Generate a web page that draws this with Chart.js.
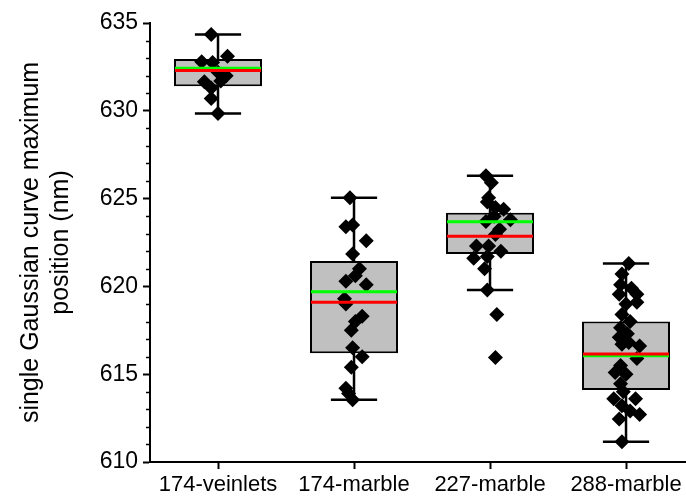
<!DOCTYPE html>
<html>
<head>
<meta charset="utf-8">
<script src="https://cdn.jsdelivr.net/npm/chart.js@4"></script>
<style>
  html, body { margin: 0; padding: 0; background: #fff; }
  #wrap { width: 686px; height: 501px; position: relative; }
</style>
</head>
<body>
<div id="wrap"><canvas id="chart"></canvas></div>
<script>
// sample groups
var categories = ["174-veinlets", "174-marble", "227-marble", "288-marble"];

// box statistics per group
var whiskerLow  = [629.85, 613.55, 619.8, 611.15];
var q1          = [631.4, 616.2, 621.85, 614.1];
var median      = [632.3, 619.1, 622.85, 616.15];
var mean        = [632.42, 619.7, 623.68, 616.05];
var q3          = [632.95, 621.45, 624.2, 618.0];
var whiskerHigh = [634.35, 625.05, 626.3, 621.3];

// individual measurements: [jitter offset, value]
var veinlets174 = [
  [-0.05, 634.35], [0.07, 633.1], [-0.12, 632.8], [-0.04, 632.75], [0.0, 632.2],
  [-0.10, 631.65], [0.02, 631.7], [0.06, 632.0], [-0.05, 631.3], [-0.05, 630.7],
  [0.0, 629.85]
];
var marble174 = [
  [-0.03, 625.05], [-0.06, 623.4], [-0.01, 623.5], [0.09, 622.6], [-0.01, 621.85],
  [0.04, 621.0], [0.01, 620.6], [-0.06, 620.3], [0.09, 620.1], [-0.07, 619.3],
  [-0.06, 619.0], [0.01, 618.0], [0.06, 618.3], [-0.02, 617.5], [-0.01, 616.5],
  [0.06, 616.0], [-0.02, 615.4], [-0.06, 614.2], [-0.04, 613.9], [-0.01, 613.55]
];
var marble227 = [
  [-0.03, 626.3], [0.01, 625.9], [-0.01, 625.05], [-0.02, 624.8], [0.10, 624.4],
  [0.04, 624.5], [0.15, 623.8], [-0.03, 623.7], [0.07, 623.25], [0.04, 622.96],
  [-0.10, 622.3], [-0.01, 622.3], [-0.12, 621.6], [-0.02, 621.7], [-0.04, 621.0],
  [0.03, 624.0], [0.08, 622.0], [-0.02, 619.8], [0.05, 618.4], [0.04, 615.95]
];
var marble288 = [
  [0.02, 621.3], [-0.03, 620.7], [-0.04, 620.1], [0.04, 619.9], [-0.05, 619.55],
  [0.08, 619.55], [0.0, 619.0], [0.08, 619.1], [-0.03, 618.4], [0.03, 618.0],
  [-0.04, 617.65], [0.01, 617.3], [-0.05, 617.1], [0.02, 616.8], [0.10, 616.6],
  [-0.03, 616.7], [0.08, 615.9], [-0.04, 615.5], [-0.08, 615.1], [0.0, 615.0],
  [-0.04, 614.45], [-0.02, 614.0], [-0.09, 613.6], [0.07, 613.6], [-0.03, 613.2],
  [0.03, 612.9], [0.10, 612.7], [-0.05, 612.45], [-0.03, 611.15]
];
var groups = [veinlets174, marble174, marble227, marble288];

var yTicks = [610, 615, 620, 625, 630, 635];

// flatten groups into scatter points centred on their category
var points = [];
groups.forEach(function (g, i) {
  g.forEach(function (p) { points.push({ x: i + p[0], y: p[1] }); });
});

var boxes = categories.map(function (c, i) {
  return { x: i, y: [q1[i], q3[i]] };
});

var BOX_FRAC = 0.647;   // box width as share of category spacing
var CAP_FRAC = 0.34;    // whisker cap width

function halfWidth(xs, frac) {
  return (xs.getPixelForValue(1) - xs.getPixelForValue(0)) * frac / 2;
}

var whiskerPlugin = {
  id: "whiskers",
  beforeDatasetsDraw: function (chart) {
    var ctx = chart.ctx, xs = chart.scales.x, ys = chart.scales.y;
    var hw = halfWidth(xs, CAP_FRAC);
    ctx.save();
    ctx.strokeStyle = "#000";
    ctx.lineWidth = 2.5;
    categories.forEach(function (c, i) {
      var cx = xs.getPixelForValue(i);
      var yLo = ys.getPixelForValue(whiskerLow[i]);
      var yHi = ys.getPixelForValue(whiskerHigh[i]);
      ctx.beginPath();
      ctx.moveTo(cx, yLo); ctx.lineTo(cx, yHi);
      ctx.moveTo(cx - hw, yLo); ctx.lineTo(cx + hw, yLo);
      ctx.moveTo(cx - hw, yHi); ctx.lineTo(cx + hw, yHi);
      ctx.stroke();
    });
    ctx.restore();
  },
  afterDatasetsDraw: function (chart) {
    var ctx = chart.ctx, xs = chart.scales.x, ys = chart.scales.y;
    var hw = halfWidth(xs, BOX_FRAC) - 1;
    ctx.save();
    ctx.lineWidth = 3;
    categories.forEach(function (c, i) {
      var cx = xs.getPixelForValue(i);
      [[mean[i], "#00ff00"], [median[i], "#ff0000"]].forEach(function (m) {
        var y = ys.getPixelForValue(m[0]);
        ctx.strokeStyle = m[1];
        ctx.beginPath();
        ctx.moveTo(cx - hw, y); ctx.lineTo(cx + hw, y);
        ctx.stroke();
      });
    });
    ctx.restore();
  },
  afterDraw: function (chart) {
    // minor ticks on the value axis
    var ctx = chart.ctx, ys = chart.scales.y;
    var x0 = chart.chartArea.left;
    ctx.save();
    ctx.strokeStyle = "#000";
    ctx.lineWidth = 1.5;
    for (var v = ys.min; v <= ys.max; v++) {
      if (v % 5 === 0) continue;
      var y = Math.round(ys.getPixelForValue(v)) + 0.5;
      ctx.beginPath();
      ctx.moveTo(x0 - 4, y); ctx.lineTo(x0, y);
      ctx.stroke();
    }
    ctx.restore();
  }
};

Chart.defaults.font.family = "'Liberation Sans', Arial, sans-serif";
Chart.defaults.color = "#000";

new Chart(document.getElementById("chart"), {
  type: "scatter",
  data: {
    datasets: [
      {
        type: "scatter",
        data: points,
        order: 0,
        pointStyle: "rectRot",
        radius: 7.5,
        backgroundColor: "#000",
        borderColor: "#000",
        borderWidth: 0
      },
      {
        type: "bar",
        data: boxes,
        order: 1,
        backgroundColor: "#c0c0c0",
        borderColor: "#000",
        borderWidth: 2,
        borderSkipped: false,
        grouped: false,
        barPercentage: BOX_FRAC,
        categoryPercentage: 1
      }
    ]
  },
  options: {
    responsive: true,
    maintainAspectRatio: false,
    animation: false,
    events: [],
    layout: { autoPadding: false, padding: { top: 23, right: 0, bottom: 0, left: 16 } },
    plugins: { legend: { display: false }, tooltip: { enabled: false } },
    scales: {
      x: {
        type: "linear",
        min: -0.5,
        max: 3.441,
        offset: false,
        afterBuildTicks: function (scale) {
          scale.ticks = categories.map(function (c, i) { return { value: i }; });
        },
        afterFit: function (scale) {
          scale.height = 39;
          scale.paddingLeft = 0;
          scale.paddingRight = 0;
        },
        ticks: {
          autoSkip: false,
          maxRotation: 0,
          padding: 3,
          font: { size: 22 },
          callback: function (v) { return categories[v]; }
        },
        grid: { offset: false, drawOnChartArea: false, tickLength: 7, tickWidth: 2, color: "#000" },
        border: { color: "#000", width: 2 }
      },
      y: {
        min: 610,
        max: 635,
        afterBuildTicks: function (scale) {
          scale.ticks = yTicks.map(function (v) { return { value: v }; });
        },
        afterFit: function (scale) { scale.width = 134; },
        ticks: { padding: 5, font: { size: 23 } },
        grid: { drawOnChartArea: false, tickLength: 7, tickWidth: 2, color: "#000" },
        border: { color: "#000", width: 2 },
        title: {
          display: true,
          text: ["single Gaussian curve maximum", "position (nm)"],
          font: { size: 25 },
          padding: { top: 0, bottom: 0 }
        }
      }
    }
  },
  plugins: [whiskerPlugin]
});
</script>
</body>
</html>
